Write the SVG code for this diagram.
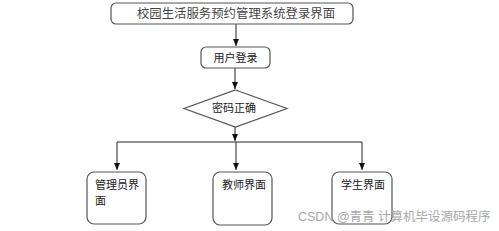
<svg xmlns="http://www.w3.org/2000/svg" width="499" height="231" viewBox="0 0 499 231">
<style>
.box{fill:#fff;stroke:#555;stroke-width:1.2}
.ln{fill:none;stroke:#222;stroke-width:1}
.t{font-family:"Noto Sans CJK SC","Liberation Sans",sans-serif;font-size:11px;fill:#222}
.wm{font-family:"Liberation Sans","Noto Sans CJK SC",sans-serif;font-size:12.5px;fill:#a8a8a8}
</style>
<defs>
<marker id="ah" markerWidth="8" markerHeight="8" refX="7" refY="4" orient="auto" markerUnits="userSpaceOnUse">
<path d="M0,1 L7,4 L0,7 Z" fill="#111"/>
</marker>
</defs>
<rect width="499" height="231" fill="#fff"/>
<g id="connectors">
<path class="ln" d="M236,24 V46" marker-end="url(#ah)"/>
<path class="ln" d="M235,67 V89" marker-end="url(#ah)"/>
<path class="ln" d="M117,142 H362"/>
<path class="ln" d="M235,127 V141" marker-end="url(#ah)"/>
<path class="ln" d="M117,142 V170" marker-end="url(#ah)"/>
<path class="ln" d="M236,142 V170" marker-end="url(#ah)" stroke-width="1.6"/>
<path class="ln" d="M362,142 V170" marker-end="url(#ah)"/>
</g>
<g id="title">
<rect class="box" x="111" y="3" width="242" height="21" rx="5"/>
<text class="t" x="236" y="18" text-anchor="middle" style="font-size:12.4px;fill:#444">校园生活服务预约管理系统登录界面</text>
</g>
<g id="login">
<rect class="box" x="201" y="47" width="69" height="21" rx="5"/>
<text class="t" x="235.5" y="62" text-anchor="middle">用户登录</text>
</g>
<g id="check">
<polygon class="box" points="235.5,90 287,108.5 235.5,127 184,108.5"/>
<text class="t" x="234" y="112" text-anchor="middle">密码正确</text>
</g>
<g id="admin">
<rect class="box" x="87" y="172" width="59" height="52" rx="7"/>
<text class="t" x="95" y="189">管理员界</text>
<text class="t" x="95" y="205">面</text>
</g>
<g id="teacher">
<rect class="box" x="213" y="172" width="59" height="53" rx="7"/>
<text class="t" x="222" y="189">教师界面</text>
</g>
<g id="student">
<rect class="box" x="332" y="172" width="60" height="52" rx="7"/>
<text class="t" x="341" y="189">学生界面</text>
</g>
<text class="wm" x="298" y="221">CSDN @青青  计算机毕设源码程序</text>
</svg>
